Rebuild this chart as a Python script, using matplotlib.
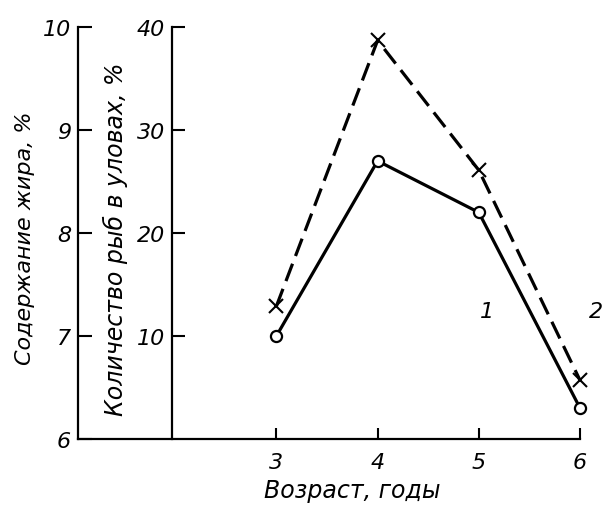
import matplotlib
matplotlib.use("Agg")
import matplotlib.pyplot as plt

# Age of fish, years
ages = [3, 4, 5, 6]
# Curve 1: fat content, %
fat_content = [7.0, 8.7, 8.2, 6.3]
# Curve 2: share of fish in catches, %
catch_share = [12.9, 38.7, 26.1, 5.7]

fat_ticks = [6, 7, 8, 9, 10]
share_ticks = [10, 20, 30, 40]
age_ticks = [3, 4, 5, 6]

plt.rcParams["font.family"] = ["DejaVu Sans"]
plt.rcParams["font.style"] = "italic"

fig = plt.figure(figsize=(6.03, 5.06), dpi=100)
ax = fig.add_axes([0.1294, 0.1304, 0.8325, 0.8142])
ax.set_xlim(1.04, 6.0)
ax.set_ylim(6, 10)
for side in ("top", "right"):
    ax.spines[side].set_visible(False)
for side in ("left", "bottom"):
    ax.spines[side].set_linewidth(1.6)

ax.set_xticks(age_ticks)
ax.set_yticks(fat_ticks)
ax.tick_params(axis="x", direction="in", length=8, width=1.5,
               labelsize=16, pad=9)
ax.tick_params(axis="y", direction="in", length=10, width=1.5,
               labelsize=16, pad=5)

# Second scale for the catch share, drawn as an inner vertical axis
ax2 = ax.twinx()
ax2.set_ylim(0, 40)
for side in ("top", "right", "bottom"):
    ax2.spines[side].set_visible(False)
ax2.spines["left"].set_visible(True)
ax2.spines["left"].set_position(("data", 1.97))
ax2.spines["left"].set_linewidth(1.6)
ax2.yaxis.set_ticks_position("left")
ax2.set_yticks(share_ticks)
ax2.tick_params(axis="y", direction="in", length=9, width=1.5,
                labelsize=16, pad=5)

# Curve 1: solid with open circles
ax.plot(ages, fat_content, color="black", lw=2.3, marker="o", ms=8,
        mfc="white", mec="black", mew=1.6, clip_on=False, zorder=3)
# Curve 2: dashed with crosses
ax2.plot(ages, catch_share, color="black", lw=2.3, dashes=(5.8, 2.6),
         marker="x", ms=10, mew=1.5, clip_on=False, zorder=3)

ax.text(5.08, 7.24, "1", fontsize=16, ha="center", va="center")
ax.text(6.16, 7.24, "2", fontsize=16, ha="center", va="center",
        clip_on=False)

fig.text(25 / 603, 1 - 238 / 506, "Содержание жира, %", rotation=90,
         fontsize=16, ha="center", va="center")
fig.text(115 / 603, 1 - 239 / 506, "Количество рыб в уловах, %",
         rotation=90, fontsize=17, ha="center", va="center")
fig.text(352 / 603, 1 - 491 / 506, "Возраст, годы", fontsize=17,
         ha="center", va="center")

fig.savefig("out.png", dpi=100)
